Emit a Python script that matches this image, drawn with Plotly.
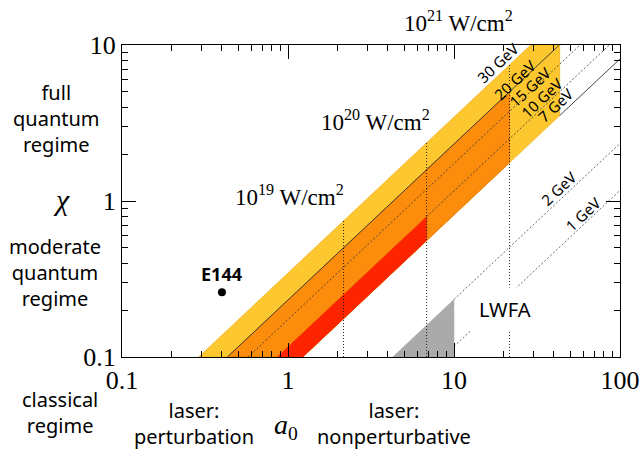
import math
import plotly.graph_objects as go

# ---------------- data ----------------
energy_labels = ["30 GeV", "20 GeV", "15 GeV", "10 GeV", "7 GeV", "2 GeV", "1 GeV"]
# chi reached at a0 = 1 for each electron energy (chi grows linearly with a0)
chi_at_a0_1 = [0.345, 0.232, 0.174, 0.116, 0.0815, 0.0234, 0.0117]

intensity_labels = ["10<sup>19</sup> W/cm<sup>2</sup>", "10<sup>20</sup> W/cm<sup>2</sup>",
                    "10<sup>21</sup> W/cm<sup>2</sup>"]
intensity_a0 = [2.16, 6.84, 21.6]
a0_band_limit = 43.3          # right edge of the yellow band

e144_a0 = [0.40]
e144_chi = [0.26]

lwfa_a0_max = 10.0

x_ticks = [0.1, 1, 10, 100]
x_ticktext = ["0.1", "1", "10", "100"]
y_ticks = [0.1, 1, 10]
y_ticktext = ["0.1", "1", "10"]

A0_MIN, A0_MAX = 0.1, 100.0
CHI_MIN, CHI_MAX = 0.1, 10.0

C = dict(zip(energy_labels, chi_at_a0_1))

# ---------------- helpers ----------------
def band(c_top, c_bot, a_cut):
    xs, ys = [CHI_MIN / c_top], [CHI_MIN]
    if c_top * a_cut > CHI_MAX:
        xs += [CHI_MAX / c_top, a_cut]
        ys += [CHI_MAX, CHI_MAX]
    else:
        xs.append(a_cut)
        ys.append(c_top * a_cut)
    xs += [a_cut, CHI_MIN / c_bot, CHI_MIN / c_top]
    ys += [c_bot * a_cut, CHI_MIN, CHI_MIN]
    return xs, ys


def seg(c, a_start, a_end):
    a0 = max(a_start, CHI_MIN / c)
    a1 = min(a_end, CHI_MAX / c, A0_MAX)
    return [a0, a1], [c * a0, c * a1]


fig = go.Figure()

YELLOW = "#FDC82F"
ORANGE = "#FB8C0C"
RED = "#FF2400"
GREY = "#AAAAAA"

# bands
for top, bot, cut, fill, edge in [
    ("30 GeV", "7 GeV", a0_band_limit, YELLOW, "#F2B01E"),
    ("20 GeV", "7 GeV", intensity_a0[2], ORANGE, "#E87A08"),
    ("10 GeV", "7 GeV", intensity_a0[1], RED, "#E83A00"),
]:
    xs, ys = band(C[top], C[bot], cut)
    fig.add_trace(go.Scatter(x=xs, y=ys, mode="lines", fill="toself", fillcolor=fill,
                             line=dict(color=edge, width=0.8), hoverinfo="skip"))

# LWFA grey triangle (below 2 GeV line, a0 <= 10)
c2 = C["2 GeV"]
fig.add_trace(go.Scatter(x=[CHI_MIN / c2, lwfa_a0_max, lwfa_a0_max, CHI_MIN / c2],
                         y=[CHI_MIN, c2 * lwfa_a0_max, CHI_MIN, CHI_MIN],
                         mode="lines", fill="toself", fillcolor=GREY,
                         line=dict(color=GREY, width=0.5), hoverinfo="skip"))

# energy lines
line_specs = [
    ("20 GeV", A0_MIN, A0_MAX, "solid", "#333333", 0.9),
    ("15 GeV", A0_MIN, A0_MAX, "2px,2px", "#333333", 0.8),
    ("10 GeV", intensity_a0[1], A0_MAX, "2px,2px", "#333333", 0.8),
    ("7 GeV", a0_band_limit, A0_MAX, "solid", "#333333", 0.9),
    ("2 GeV", lwfa_a0_max, A0_MAX, "2px,2px", "#444444", 0.8),
    ("1 GeV", lwfa_a0_max, A0_MAX, "2px,2px", "#444444", 0.8),
]
for name, a_s, a_e, dash, col, w in line_specs:
    xs, ys = seg(C[name], a_s, a_e)
    fig.add_trace(go.Scatter(x=xs, y=ys, mode="lines",
                             line=dict(color=col, width=w, dash=dash), hoverinfo="skip"))

# intensity lines (vertical, up to the 30 GeV edge)
for a in intensity_a0:
    fig.add_trace(go.Scatter(x=[a, a], y=[CHI_MIN, C["30 GeV"] * a], mode="lines",
                             line=dict(color="#111111", width=0.9, dash="1px,2px"),
                             hoverinfo="skip"))

# E144 point
fig.add_trace(go.Scatter(x=e144_a0, y=e144_chi, mode="markers",
                         marker=dict(color="black", size=8), hoverinfo="skip"))

SANS = "Noto Sans"
SERIF = "Liberation Serif"

ann = []
# GeV labels along the lines
gev_label_pos = {
    "30 GeV": (18.3, 7.67), "20 GeV": (23.2, 5.97), "15 GeV": (28.6, 5.38),
    "10 GeV": (33.7, 4.57), "7 GeV": (40.9, 4.12), "2 GeV": (42.9, 1.21),
    "1 GeV": (59.6, 0.83),
}
for name in energy_labels:
    a, c = gev_label_pos[name]
    ann.append(dict(x=math.log10(a), y=math.log10(c), xref="x", yref="y", text=name,
                    showarrow=False, textangle=-43, xanchor="center", yanchor="middle",
                    font=dict(family=SANS, size=15, color="black")))

# intensity labels
int_label_pos = [(1.02, 1.08), (3.35, 3.26)]
for lab, (a, c) in zip(intensity_labels[:2], int_label_pos):
    ann.append(dict(x=math.log10(a), y=math.log10(c), xref="x", yref="y", text=lab,
                    showarrow=False, xanchor="center", yanchor="middle",
                    font=dict(family=SERIF, size=23, color="black")))
ann.append(dict(x=math.log10(10.6), y=1.075, xref="x", yref="paper",
                text=intensity_labels[2], showarrow=False, xanchor="center",
                yanchor="middle", font=dict(family=SERIF, size=23, color="black")))

ann.append(dict(x=math.log10(0.399), y=math.log10(0.34), xref="x", yref="y",
                text="<b>E144</b>", showarrow=False, xanchor="center", yanchor="middle",
                font=dict(family=SANS, size=18, color="black")))
ann.append(dict(x=math.log10(20.2), y=math.log10(0.203), xref="x", yref="y",
                text="LWFA", showarrow=False, bgcolor="white", borderpad=8,
                xanchor="center", yanchor="middle",
                font=dict(family=SANS, size=20, color="black")))

# outside texts (paper coordinates)
outside = [
    ("full<br>quantum<br>regime", -0.1325, 0.765, SANS, 20),
    ("moderate<br>quantum<br>regime", -0.1345, 0.272, SANS, 20),
    ("classical<br>regime", -0.1245, -0.179, SANS, 20),
    ("laser:<br>perturbation", 0.1446, -0.2147, SANS, 20),
    ("laser:<br>nonperturbative", 0.546, -0.2147, SANS, 20),
    ("<i>χ</i>", -0.1205, 0.505, SERIF, 30),
    ("<i>a</i><sub>0</sub>", 0.329, -0.224, SERIF, 28),
]
for txt, px, py, fam, sz in outside:
    ann.append(dict(x=px, y=py, xref="paper", yref="paper", text=txt, showarrow=False,
                    xanchor="center", yanchor="middle",
                    font=dict(family=fam, size=sz, color="black")))

minor_vals = [m * 10 ** d for d in range(-1, 2) for m in range(2, 10)]

axis_common = dict(type="log", showline=True, linecolor="black", linewidth=1.3,
                   mirror="allticks", ticks="inside", ticklen=14, tickwidth=1.2,
                   tickcolor="black", showgrid=False, zeroline=False, automargin=False,
                   tickfont=dict(family=SERIF, size=26, color="black"))

fig.update_layout(
    width=642, height=449,
    margin=dict(l=122, r=22, t=45, b=92),
    paper_bgcolor="white", plot_bgcolor="white",
    showlegend=False,
    annotations=ann,
    xaxis=dict(range=[math.log10(A0_MIN), math.log10(A0_MAX)], tickvals=x_ticks,
               ticktext=x_ticktext,
               minor=dict(tickvals=minor_vals, ticks="inside", ticklen=6, tickwidth=1,
                          tickcolor="black", showgrid=False),
               **axis_common),
    yaxis=dict(range=[math.log10(CHI_MIN), math.log10(CHI_MAX)], tickvals=y_ticks,
               ticktext=y_ticktext,
               minor=dict(tickvals=[m * 10 ** d for d in range(-1, 1) for m in range(2, 10)],
                          ticks="inside", ticklen=6, tickwidth=1,
                          tickcolor="black", showgrid=False),
               **axis_common),
)

fig.write_html("out.html")
